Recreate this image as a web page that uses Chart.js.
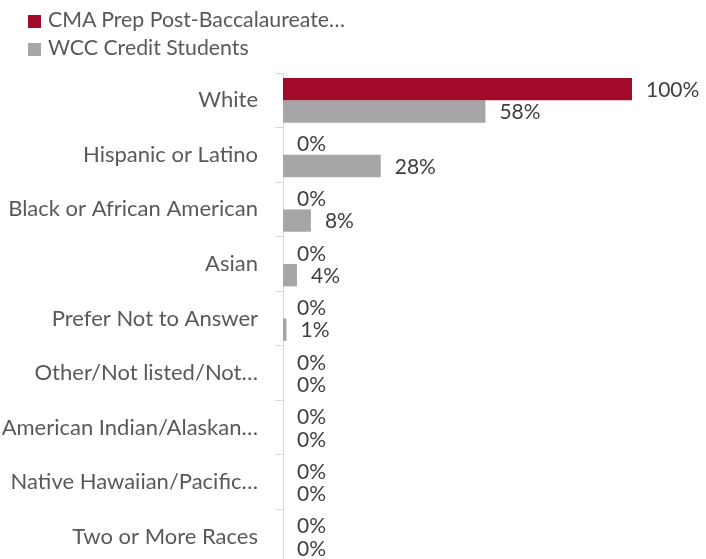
<!DOCTYPE html>
<html>
<head>
<meta charset="utf-8">
<script src="https://cdn.jsdelivr.net/npm/chart.js@4/dist/chart.umd.min.js"></script>
<style>
  html, body { margin: 0; padding: 0; background: #fff; overflow: hidden; }
  #wrap { position: relative; width: 706px; height: 559px; overflow: hidden; }
  #legend { position: absolute; left: 28px; top: 5px; font-family: Lato, sans-serif; font-size: 21.3px; color: #595959; }
  #legend div { height: 28px; line-height: 28px; white-space: nowrap; }
  #legend span.box { display: inline-block; width: 13px; height: 13px; margin-right: 7px; vertical-align: -1px; }
</style>
</head>
<body>
<div id="wrap">
  <canvas id="grafico" width="706" height="564"></canvas>
  <div id="legend"></div>
</div>
<script>
const categorias = [
  'White',
  'Hispanic or Latino',
  'Black or African American',
  'Asian',
  'Prefer Not to Answer',
  'Other/Not listed/Not…',
  'American Indian/Alaskan…',
  'Native Hawaiian/Pacific…',
  'Two or More Races'
];
const nomesSeries = ['CMA Prep Post-Baccalaureate…', 'WCC Credit Students'];
const cmaPrep = [100, 0, 0, 0, 0, 0, 0, 0, 0];
const wccCredit = [58, 28, 8, 4, 1, 0, 0, 0, 0];
const cores = ['#A20A2A', '#A6A6A6'];

// legenda em HTML (empilhada como no original)
const legenda = document.getElementById('legend');
nomesSeries.forEach((nome, i) => {
  legenda.innerHTML += '<div><span class="box" style="background:' + cores[i] + '"></span>' + nome + '</div>';
});

const rotulos = {
  id: 'rotulos',
  afterDatasetsDraw(chart) {
    const ctx = chart.ctx;
    ctx.save();
    ctx.font = '21px Lato';
    ctx.fillStyle = '#404040';
    ctx.textAlign = 'left';
    ctx.textBaseline = 'middle';
    chart.data.datasets.forEach((ds, i) => {
      chart.getDatasetMeta(i).data.forEach((bar, j) => {
        ctx.fillText(ds.data[j] + '%', bar.x + 14, bar.y + 1);
      });
    });
    ctx.restore();
  }
};

new Chart(document.getElementById('grafico'), {
  type: 'bar',
  data: {
    labels: categorias,
    datasets: [
      { label: nomesSeries[0], data: cmaPrep, backgroundColor: cores[0] },
      { label: nomesSeries[1], data: wccCredit, backgroundColor: cores[1] }
    ]
  },
  options: {
    indexAxis: 'y',
    responsive: false,
    animation: false,
    categoryPercentage: 0.82,
    barPercentage: 1,
    layout: { padding: { top: 73, right: 74, bottom: 0, left: 0 } },
    plugins: {
      legend: { display: false },
      tooltip: { enabled: false }
    },
    scales: {
      x: { display: false, min: 0, max: 100 },
      y: {
        afterFit(scale) {
          scale.width = 283;
          scale.paddingTop = 0;
          scale.paddingBottom = 0;
        },
        border: { color: '#D9D9D9', width: 1 },
        grid: {
          offset: true,
          drawOnChartArea: false,
          drawTicks: true,
          tickLength: 8,
          color: '#D9D9D9'
        },
        ticks: {
          color: '#595959',
          padding: 17,
          font: { family: 'Lato', size: 22 }
        }
      }
    }
  },
  plugins: [rotulos]
});
</script>
</body>
</html>
